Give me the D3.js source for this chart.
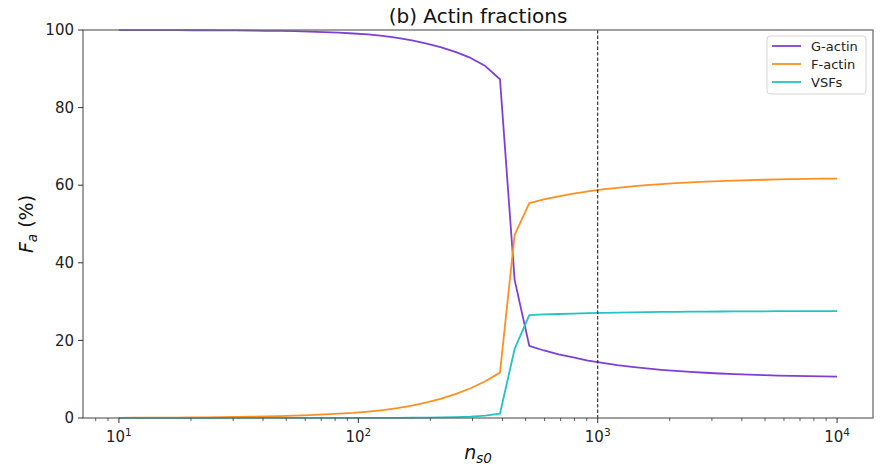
<!DOCTYPE html>
<html>
<head>
<meta charset="utf-8">
<script src="https://cdn.jsdelivr.net/npm/d3@7"></script>
<style>
  body { margin: 0; background: #fff; }
  text { font-family: "DejaVu Sans", sans-serif; }
</style>
</head>
<body>
<svg id="chart" width="885" height="466"></svg>
<script>
// Stress-fibre seeding number n_s0 (log-spaced samples)
const nValues = [10, 11.51, 13.26, 15.26, 17.58, 20.24, 23.30, 26.83, 30.89, 35.56,
  40.95, 47.15, 54.29, 62.51, 71.97, 82.86, 95.41, 109.9, 126.5, 145.6,
  167.7, 193.1, 222.3, 256.0, 294.7, 339.3, 390.7, 449.8, 517.9, 596.4,
  686.6, 790.6, 910.3, 1048, 1207, 1389, 1600, 1842, 2121, 2442,
  2812, 3237, 3728, 4292, 4942, 5690, 6551, 7543, 8685, 10000];

// Actin fractions F_a (%)
const gActin = [99.98, 99.98, 99.97, 99.97, 99.96, 99.94, 99.93, 99.91, 99.88, 99.85,
  99.80, 99.76, 99.70, 99.60, 99.45, 99.30, 99.10, 98.85, 98.50, 97.95,
  97.30, 96.50, 95.50, 94.30, 92.80, 90.70, 87.30, 35.6, 18.6, 17.4,
  16.4, 15.6, 14.8, 14.2, 13.65, 13.19, 12.78, 12.43, 12.13, 11.88,
  11.66, 11.47, 11.30, 11.16, 11.04, 10.94, 10.85, 10.77, 10.71, 10.65];

const fActin = [0.05, 0.06, 0.07, 0.09, 0.11, 0.14, 0.17, 0.21, 0.26, 0.32,
  0.40, 0.49, 0.61, 0.75, 0.93, 1.12, 1.32, 1.65, 2.05, 2.55,
  3.20, 4.02, 5.00, 6.20, 7.66, 9.47, 11.7, 47.2, 55.4, 56.33,
  57.13, 57.81, 58.39, 58.90, 59.33, 59.71, 60.03, 60.30, 60.54, 60.75,
  60.92, 61.07, 61.20, 61.31, 61.41, 61.49, 61.56, 61.62, 61.68, 61.72];

const vsfs = [0, 0, 0, 0, 0, 0, 0, 0, 0.01, 0.01,
  0.01, 0.01, 0.01, 0.02, 0.02, 0.02, 0.03, 0.03, 0.04, 0.05,
  0.07, 0.10, 0.15, 0.23, 0.37, 0.62, 1.1, 17.8, 26.5, 26.69,
  26.81, 26.92, 27.02, 27.10, 27.17, 27.23, 27.28, 27.33, 27.37, 27.40,
  27.43, 27.45, 27.47, 27.49, 27.50, 27.52, 27.53, 27.54, 27.55, 27.56];

const seriesNames = ["G-actin", "F-actin", "VSFs"];
const seriesColors = ["#7f3fd6", "#ff8f1f", "#22c3c3"];
const yTicks = [0, 20, 40, 60, 80, 100];
const xTickExponents = [1, 2, 3, 4];
const referenceN = 1000;

const svg = d3.select("#chart");
const margin = { left: 83, right: 12, top: 30, bottom: 48 };
const W = 885, H = 466;
const plotW = W - margin.left - margin.right;
const plotH = H - margin.top - margin.bottom;

const x = d3.scaleLog().domain([Math.pow(10, 0.85), Math.pow(10, 4.15)]).range([0, plotW]);
const y = d3.scaleLinear().domain([0, 100]).range([plotH, 0]);

const g = svg.append("g").attr("transform", `translate(${margin.left},${margin.top})`);

// Title
svg.append("text")
  .attr("x", margin.left + plotW / 2).attr("y", 23)
  .attr("text-anchor", "middle").attr("font-size", 20).attr("fill", "#111")
  .text("(b) Actin fractions");

// Series lines
const series = [gActin, fActin, vsfs];
const line = d3.line().x((d, i) => x(nValues[i])).y(d => y(d));
series.forEach((vals, k) => {
  g.append("path").datum(vals)
    .attr("d", line)
    .attr("fill", "none")
    .attr("stroke", seriesColors[k])
    .attr("stroke-width", 1.8)
    .attr("stroke-linejoin", "round");
});

// Dashed marker at n_s0 = 10^3
g.append("line")
  .attr("x1", x(referenceN)).attr("x2", x(referenceN))
  .attr("y1", 0).attr("y2", plotH)
  .attr("stroke", "#222").attr("stroke-width", 1.1)
  .attr("stroke-dasharray", "3.5,2");

// Frame
const spineColor = "#6e6e6e";
g.append("rect").attr("x", 0).attr("y", 0).attr("width", plotW).attr("height", plotH)
  .attr("fill", "none").attr("stroke", spineColor).attr("stroke-width", 1.3);

// Y axis ticks
const yAxis = g.append("g");
yTicks.forEach(t => {
  yAxis.append("line").attr("x1", -5).attr("x2", 0).attr("y1", y(t)).attr("y2", y(t))
    .attr("stroke", "#333").attr("stroke-width", 1);
  yAxis.append("text").attr("x", -9).attr("y", y(t)).attr("dy", "0.35em")
    .attr("text-anchor", "end").attr("font-size", 15).attr("fill", "#222").text(t);
});

// X axis: major ticks with powers of ten, minor ticks between
const xAxis = g.append("g").attr("transform", `translate(0,${plotH})`);
x.ticks().forEach(t => {
  const isMajor = Math.abs(Math.log10(t) - Math.round(Math.log10(t))) < 1e-9;
  xAxis.append("line").attr("x1", x(t)).attr("x2", x(t)).attr("y1", 0).attr("y2", isMajor ? 5 : 3)
    .attr("stroke", "#333").attr("stroke-width", isMajor ? 1 : 0.8);
});
xTickExponents.forEach(e => {
  const tx = xAxis.append("text").attr("x", x(Math.pow(10, e))).attr("y", 24)
    .attr("text-anchor", "middle").attr("font-size", 15).attr("fill", "#222");
  tx.append("tspan").text("10");
  tx.append("tspan").attr("font-size", 10.5).attr("dy", -6).text(e);
});

// Axis labels
const xl = svg.append("text")
  .attr("x", margin.left + plotW / 2).attr("y", 459)
  .attr("text-anchor", "middle").attr("font-size", 19).attr("fill", "#111");
xl.append("tspan").attr("font-style", "italic").text("n");
xl.append("tspan").attr("font-style", "italic").attr("font-size", 13.5).attr("dy", 4).text("s0");

const yl = svg.append("text")
  .attr("transform", `translate(33,${margin.top + plotH / 2}) rotate(-90)`)
  .attr("text-anchor", "middle").attr("font-size", 19).attr("fill", "#111");
yl.append("tspan").attr("font-style", "italic").text("F");
yl.append("tspan").attr("font-style", "italic").attr("font-size", 13.5).attr("dy", 4).text("a");
yl.append("tspan").attr("dy", -4).text(" (%)");

// Legend
const lg = svg.append("g").attr("transform", "translate(767,36)");
lg.append("rect").attr("width", 99).attr("height", 58).attr("rx", 3)
  .attr("fill", "#fff").attr("fill-opacity", 0.85)
  .attr("stroke", "#d4d4d4").attr("stroke-width", 1);
seriesNames.forEach((name, k) => {
  const ly = 10 + k * 18;
  lg.append("line").attr("x1", 5).attr("x2", 34).attr("y1", ly).attr("y2", ly)
    .attr("stroke", seriesColors[k]).attr("stroke-width", 1.8);
  lg.append("text").attr("x", 44).attr("y", ly).attr("dy", "0.35em")
    .attr("font-size", 13).attr("fill", "#222").text(name);
});
</script>
</body>
</html>
